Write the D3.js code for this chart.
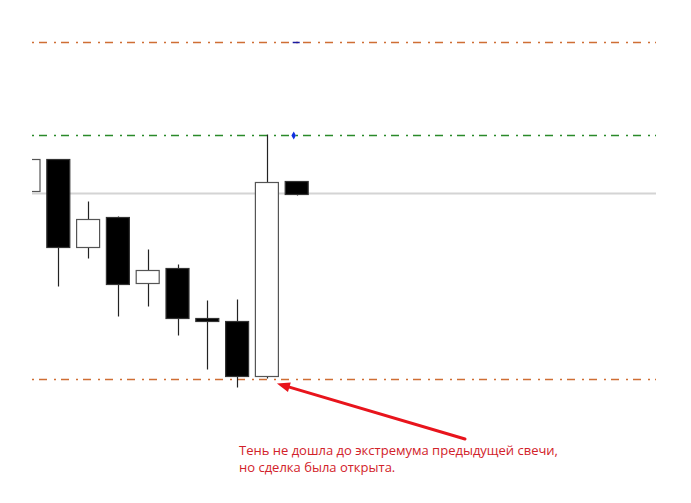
<!DOCTYPE html>
<html>
<head>
<meta charset="utf-8">
<script src="https://cdn.jsdelivr.net/npm/d3@7"></script>
<style>
  html, body { margin: 0; padding: 0; background: #fff; }
  svg { display: block; }
</style>
</head>
<body>
<svg id="chart" width="691" height="503"></svg>
<script>
// ---- data ----
const candleIndex = [0, 1, 2, 3, 4, 5, 6, 7, 8, 9];
const opens  = [1.2687, 1.2719, 1.2631, 1.2661, 1.2595, 1.2610, 1.2560, 1.2557, 1.2502, 1.2697];
const highs  = [1.2719, 1.2719, 1.2677, 1.2662, 1.2629, 1.2614, 1.2578, 1.2579, 1.2744, 1.2697];
const lows   = [1.2687, 1.2592, 1.2620, 1.2562, 1.2572, 1.2543, 1.2509, 1.2491, 1.2500, 1.2683];
const closes = [1.2719, 1.2631, 1.2659, 1.2594, 1.2608, 1.2560, 1.2557, 1.2502, 1.2696, 1.2684];

const upperLevel = 1.2837;   // orange dash-dot
const greenLevel = 1.2744;   // green dash-dot
const bidLevel   = 1.2685;   // gray solid
const lowerLevel = 1.2500;   // orange dash-dot

const noteLines = [
  "Тень не дошла до экстремума предыдущей свечи,",
  "но сделка была открыта."
];

// ---- layout ----
const svg = d3.select("#chart");
const plotLeft = 32, plotRight = 656;

const x = d3.scaleLinear().domain([0, 9]).range([28.5, 296.7]);
const y = d3.scaleLinear().domain([1.2500, 1.2837]).range([378.5, 41.5]);
const bodyW = 23;

svg.append("defs").append("clipPath").attr("id", "plotClip")
  .append("rect").attr("x", plotLeft).attr("y", 0)
  .attr("width", plotRight - plotLeft).attr("height", 503);

const g = svg.append("g").attr("clip-path", "url(#plotClip)");

// gray bid line
g.append("line")
  .attr("x1", plotLeft).attr("x2", plotRight)
  .attr("y1", y(bidLevel)).attr("y2", y(bidLevel))
  .attr("stroke", "#d4d4d4").attr("stroke-width", 2);

// dash-dot level lines
const levels = [
  {v: upperLevel, c: "#cf6e34"},
  {v: greenLevel, c: "#2a8a2a"},
  {v: lowerLevel, c: "#cf6e34"}
];
g.selectAll("line.level").data(levels).join("line")
  .attr("class", "level")
  .attr("x1", plotLeft).attr("x2", plotRight)
  .attr("y1", d => Math.round(y(d.v)) + 0.5).attr("y2", d => Math.round(y(d.v)) + 0.5)
  .attr("stroke", d => d.c).attr("stroke-width", 1.3)
  .attr("stroke-dasharray", "2,5,8,7");

// candles
const candles = candleIndex.map(i => ({i, o: opens[i], h: highs[i], l: lows[i], c: closes[i]}));

g.selectAll("line.wick").data(candles).join("line")
  .attr("class", "wick")
  .attr("x1", d => Math.round(x(d.i)) + 0.5).attr("x2", d => Math.round(x(d.i)) + 0.5)
  .attr("y1", d => y(d.h)).attr("y2", d => y(d.l))
  .attr("stroke", "#222").attr("stroke-width", 1.2);

g.selectAll("rect.body").data(candles).join("rect")
  .attr("class", "body")
  .attr("x", d => x(d.i) - bodyW / 2)
  .attr("width", bodyW)
  .attr("y", d => y(Math.max(d.o, d.c)))
  .attr("height", d => Math.max(2, Math.abs(y(d.o) - y(d.c))))
  .attr("fill", d => d.c >= d.o ? "#fff" : "#000")
  .attr("stroke", d => d.c >= d.o ? "#555" : "#333")
  .attr("stroke-width", 1.2);

// blue markers on the last candle
const mx = x(9) - 3;
g.append("line")
  .attr("x1", mx - 1).attr("x2", mx + 6)
  .attr("y1", Math.round(y(upperLevel)) + 0.5).attr("y2", Math.round(y(upperLevel)) + 0.5)
  .attr("stroke", "#1a1aa0").attr("stroke-width", 1.5);
g.append("path")
  .attr("d", d3.symbol(d3.symbolDiamond, 18)())
  .attr("transform", `translate(${mx},${Math.round(y(greenLevel)) + 0.5})`)
  .attr("fill", "#1030e0");

// red arrow
const arrowTip = [x(8) + 10, y(lowerLevel) + 5];
const arrowTail = [465, 439];
const ang = Math.atan2(arrowTail[1] - arrowTip[1], arrowTail[0] - arrowTip[0]);
const headLen = 13, headW = 5;
const bx = arrowTip[0] + Math.cos(ang) * headLen, by = arrowTip[1] + Math.sin(ang) * headLen;
svg.append("line")
  .attr("x1", bx).attr("y1", by).attr("x2", arrowTail[0]).attr("y2", arrowTail[1])
  .attr("stroke", "#e8141c").attr("stroke-width", 3).attr("stroke-linecap", "round");
svg.append("path")
  .attr("d", d3.line()([
    arrowTip,
    [bx + Math.sin(ang) * headW, by - Math.cos(ang) * headW],
    [bx - Math.sin(ang) * headW, by + Math.cos(ang) * headW]
  ]) + "Z")
  .attr("fill", "#e8141c");

// note text
svg.selectAll("text.note").data(noteLines).join("text")
  .attr("class", "note")
  .attr("x", 239)
  .attr("y", (d, i) => 455 + i * 17)
  .attr("fill", "#d2222a")
  .attr("font-family", "'Open Sans', 'Noto Sans', sans-serif")
  .attr("font-size", 13)
  .text(d => d);
</script>
</body>
</html>
